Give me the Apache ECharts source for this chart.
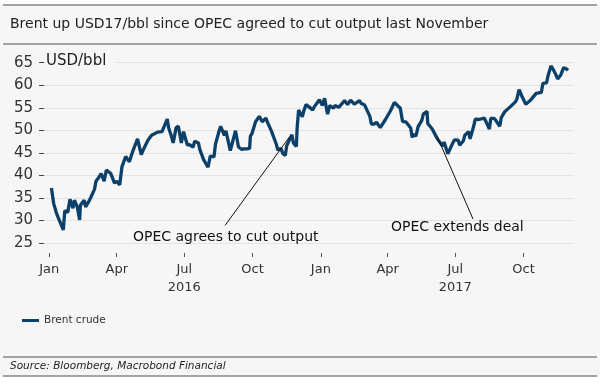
<!DOCTYPE html>
<html>
<head>
<meta charset="utf-8">
<script src="https://cdn.jsdelivr.net/npm/echarts@6/dist/echarts.min.js"></script>
<style>
html,body{margin:0;padding:0;background:#fff;}
#c{width:600px;height:392px;}
</style>
</head>
<body>
<div id="c"></div>
<script>
// ---- data ----
const titleText = 'Brent up USD17/bbl since OPEC agreed to cut output last November';
const unitText = 'USD/bbl';
const seriesName = 'Brent crude';
const sourceText = 'Source: Bloomberg, Macrobond Financial';

const dates = [
'2016-01-04','2016-01-07','2016-01-11','2016-01-14','2016-01-20','2016-01-22','2016-01-26','2016-01-29',
'2016-02-02','2016-02-04','2016-02-08','2016-02-11','2016-02-12','2016-02-17','2016-02-19','2016-02-24','2016-02-26',
'2016-03-02','2016-03-04','2016-03-08','2016-03-11','2016-03-15','2016-03-18','2016-03-24','2016-03-29','2016-04-01',
'2016-04-05','2016-04-08','2016-04-13','2016-04-18','2016-04-22','2016-04-29','2016-05-04','2016-05-06','2016-05-13',
'2016-05-18','2016-05-20','2016-05-26','2016-06-01','2016-06-03','2016-06-08','2016-06-10','2016-06-14','2016-06-16',
'2016-06-20','2016-06-23','2016-06-27','2016-06-30','2016-07-05','2016-07-08','2016-07-13','2016-07-15','2016-07-20',
'2016-07-22','2016-07-27','2016-08-02','2016-08-05','2016-08-10','2016-08-12','2016-08-17','2016-08-19','2016-08-24',
'2016-08-26','2016-09-01','2016-09-08','2016-09-12','2016-09-16','2016-09-20','2016-09-23','2016-09-27','2016-09-28',
'2016-09-30','2016-10-05','2016-10-10','2016-10-14','2016-10-19','2016-10-21','2016-10-26','2016-10-28','2016-11-02',
'2016-11-04','2016-11-08','2016-11-11','2016-11-14','2016-11-16','2016-11-18','2016-11-23','2016-11-25','2016-11-29',
'2016-11-30','2016-12-02','2016-12-07','2016-12-09','2016-12-12','2016-12-16','2016-12-21','2016-12-23','2016-12-30',
'2017-01-03','2017-01-06','2017-01-10','2017-01-13','2017-01-18','2017-01-20','2017-01-25','2017-01-27','2017-02-02',
'2017-02-06','2017-02-10','2017-02-15','2017-02-17','2017-02-22','2017-02-24','2017-03-01','2017-03-03','2017-03-08',
'2017-03-10','2017-03-14','2017-03-17','2017-03-22','2017-03-24','2017-03-29','2017-03-31','2017-04-05','2017-04-10',
'2017-04-12','2017-04-18','2017-04-21','2017-04-26','2017-04-28','2017-05-02','2017-05-04','2017-05-05','2017-05-09',
'2017-05-12','2017-05-17','2017-05-19','2017-05-24','2017-05-25','2017-05-31','2017-06-02','2017-06-07','2017-06-09',
'2017-06-14','2017-06-16','2017-06-21','2017-06-23','2017-06-28','2017-06-30','2017-07-05','2017-07-07','2017-07-12',
'2017-07-14','2017-07-19','2017-07-21','2017-07-26','2017-07-28','2017-08-02','2017-08-04','2017-08-09','2017-08-11',
'2017-08-16','2017-08-18','2017-08-23','2017-08-25','2017-08-30','2017-09-01','2017-09-06','2017-09-08','2017-09-13',
'2017-09-15','2017-09-20','2017-09-22','2017-09-25','2017-09-29','2017-10-04','2017-10-06','2017-10-10','2017-10-13',
'2017-10-18','2017-10-20','2017-10-25','2017-10-27','2017-11-01','2017-11-03','2017-11-07','2017-11-10','2017-11-14',
'2017-11-16','2017-11-20','2017-11-24','2017-11-28','2017-11-30'
];
const prices = [
37.2,33.8,31.5,30.3,27.9,32.2,31.8,34.7,
32.7,34.5,32.9,30.1,33.4,34.5,33.0,34.4,35.1,
36.9,38.7,39.6,40.4,38.7,41.2,40.4,38.3,38.7,
37.9,41.9,44.2,43.0,45.1,48.1,44.6,45.4,47.8,
48.9,48.7,49.6,49.7,49.6,52.5,50.5,48.5,47.2,
50.6,50.9,47.2,49.7,46.8,46.8,46.3,47.6,47.2,
45.7,43.5,41.8,44.3,44.1,46.9,49.9,50.9,48.9,
49.9,45.5,49.9,46.3,45.8,45.9,45.9,46.0,48.7,
49.2,51.9,53.1,51.9,52.7,51.8,50.0,49.7,46.9,
45.6,46.0,44.8,44.4,46.6,46.9,49.0,47.2,46.4,
50.5,54.5,53.0,54.3,55.7,55.2,54.5,55.2,56.8,
55.5,57.1,53.6,55.5,54.9,55.5,55.1,55.5,56.6,
55.7,56.7,55.8,55.8,56.6,56.0,55.6,55.9,53.1,
51.4,51.4,51.8,50.6,50.8,52.4,52.8,54.4,56.2,
56.0,54.9,52.0,51.8,51.7,50.5,48.4,49.1,48.7,
50.8,52.2,53.6,54.2,51.5,50.3,50.0,48.1,48.2,
46.5,47.4,44.8,45.5,47.3,47.9,47.8,46.7,47.7,
48.9,49.7,48.1,51.0,52.5,52.4,52.4,52.7,52.1,
50.3,52.7,52.6,52.4,50.9,52.8,54.2,53.8,55.2,
55.6,56.3,56.9,59.0,57.5,55.8,55.6,56.6,57.2,
58.2,57.8,58.4,60.4,60.5,62.1,64.3,63.5,62.2,
61.4,62.2,63.9,63.6,63.3
];
const tickDates = ['2016-01-01','2016-04-01','2016-07-01','2016-10-01','2017-01-01','2017-04-01','2017-07-01','2017-10-01'];
const tickLabels = ['Jan','Apr','Jul\n2016','Oct','Jan','Apr','Jul\n2017','Oct'];
const yTicks = [25,30,35,40,45,50,55,60,65];

const annotation1 = 'OPEC agrees to cut output';
const annotation2 = 'OPEC extends deal';
// ---- chart ----
const FONT = 'DejaVu Sans';
const ts = d => Date.parse(d + 'T00:00:00Z');
const tickTimes = tickDates.map(ts);
const seriesData = dates.map((d, i) => [ts(d), prices[i]]);
const chart = echarts.init(document.getElementById('c'), null, {renderer: 'canvas'});
const ruleColor = '#a3a3a3';
const BG = '#f6f6f6';
chart.setOption({
  backgroundColor: BG,
  animation: false,
  textStyle: {fontFamily: FONT},
  grid: {left: 44, right: 26, top: 62.7, bottom: 149},
  xAxis: {
    type: 'value',
    min: ts('2015-12-25'),
    max: ts('2017-12-08'),
    offset: 10,
    axisLine: {show: false},
    splitLine: {show: false},
    axisTick: {show: true, customValues: tickTimes, length: 4, lineStyle: {color: '#555'}},
    axisLabel: {
      customValues: tickTimes,
      margin: 8,
      fontFamily: FONT, fontSize: 13, color: '#333', lineHeight: 18,
      formatter: function (v) {
        const i = tickTimes.indexOf(v);
        return i >= 0 ? tickLabels[i] : '';
      }
    }
  },
  yAxis: {
    type: 'value',
    min: yTicks[0], max: yTicks[yTicks.length - 1], interval: 5,
    axisLine: {show: false},
    axisTick: {show: true, length: 5, lineStyle: {color: '#444'}},
    axisLabel: {fontFamily: FONT, fontSize: 15, color: '#333', margin: 11},
    splitLine: {lineStyle: {color: '#e6e2e2', width: 1}}
  },
  legend: {
    left: 17, top: 310,
    icon: 'rect', itemWidth: 17, itemHeight: 3, itemGap: 2,
    textStyle: {fontFamily: FONT, fontSize: 10.5, color: '#333'},
    data: [seriesName]
  },
  series: [{
    name: seriesName,
    type: 'line',
    data: seriesData,
    showSymbol: false,
    symbol: 'none',
    lineStyle: {color: '#0d4069', width: 3.3},
    itemStyle: {color: '#0d4069'},
    markLine: {
      silent: true, symbol: 'none',
      lineStyle: {color: '#111', width: 1, type: 'solid'},
      label: {show: false},
      data: [
        [{coord: [ts('2016-08-25'), 28.9]}, {coord: [ts('2016-11-20'), 48.6]}],
        [{coord: [ts('2017-07-25'), 30.3]}, {coord: [ts('2017-06-07'), 48.5]}]
      ]
    }
  }],
  graphic: [
    {type: 'rect', z: 100, shape: {x: 0, y: 0, width: 600, height: 4}, style: {fill: '#fff'}},
    {type: 'rect', z: 100, shape: {x: 0, y: 377, width: 600, height: 15}, style: {fill: '#fff'}},
    {type: 'line', z: 100, shape: {x1: 3, y1: 5, x2: 597, y2: 5}, style: {stroke: ruleColor, lineWidth: 2}},
    {type: 'line', z: 100, shape: {x1: 3, y1: 44, x2: 597, y2: 44}, style: {stroke: ruleColor, lineWidth: 2}},
    {type: 'line', z: 100, shape: {x1: 3, y1: 357, x2: 597, y2: 357}, style: {stroke: ruleColor, lineWidth: 2}},
    {type: 'line', z: 100, shape: {x1: 3, y1: 376, x2: 597, y2: 376}, style: {stroke: ruleColor, lineWidth: 2}},
    {type: 'text', z: 100, left: 10, top: 17, style: {text: titleText, fontFamily: FONT, fontSize: 14, fill: '#222'}},
    {type: 'rect', z: 100, shape: {x: 45, y: 54, width: 70, height: 17}, style: {fill: BG}},
    {type: 'text', z: 101, left: 46, top: 54, style: {text: unitText, fontFamily: FONT, fontSize: 15, fill: '#222'}},
    {type: 'text', z: 100, left: 133, top: 230, style: {text: annotation1, fontFamily: FONT, fontSize: 14, fill: '#111'}},
    {type: 'text', z: 100, left: 391, top: 220, style: {text: annotation2, fontFamily: FONT, fontSize: 14, fill: '#111'}},
    {type: 'text', z: 100, left: 10, top: 361, style: {text: sourceText, fontFamily: FONT, fontSize: 10.5, fontStyle: 'italic', fill: '#222'}}
  ]
});
</script>
</body>
</html>
